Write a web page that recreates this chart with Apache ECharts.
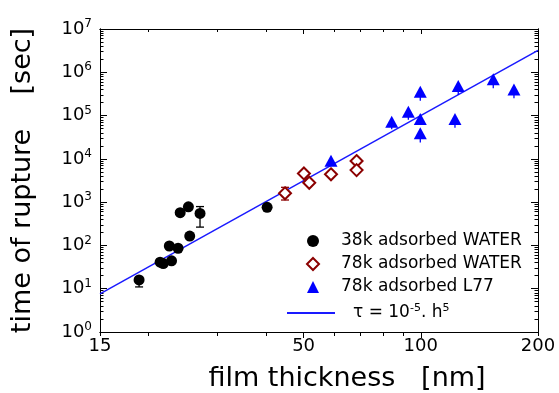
<!DOCTYPE html>
<html><head><meta charset="utf-8">
<script src="https://cdn.jsdelivr.net/npm/echarts@6/dist/echarts.min.js"></script>
<style>html,body{margin:0;padding:0;background:#fff}#c{width:559px;height:393px}</style>
</head><body><div id="c"></div>
<script>
// ---- data ----
const water38kX = [18.9, 21.4, 21.8, 22.6, 22.9, 23.8, 24.1, 25.3, 25.5, 27.1, 40.3];
const water38kY = [16, 41, 38, 97, 44, 86, 570, 780, 165, 550, 760];
const water78kX = [44.8, 50.1, 51.7, 58.8, 68.4, 68.4];
const water78kY = [1600, 4600, 2800, 4400, 8900, 5500];
const l77X = [58.8, 84.2, 92.9, 99.7, 99.7, 99.7, 122.4, 124.8, 153.5, 173.5];
const l77Y = [9000, 72000, 122000, 355000, 83000, 39000, 83000, 480000, 690000, 400000];
const fitX = [15, 200];
const fitY = [7.6, 3.2e6];
// error bars (x, low, high)
const errBlackX = [18.9, 27.1];
const errBlackLow = [11, 265];
const errBlackHigh = [16, 790];
const errRedX = [44.8];
const errRedLow = [1120];
const errRedHigh = [2200];
const errBlueX = [84.2, 92.9, 99.7, 99.7, 122.4, 124.8, 153.5, 173.5];
const errBlueLow = [48000, 80000, 220000, 24000, 52000, 300000, 430000, 250000];
const errBlueHigh = [72000, 122000, 355000, 39000, 83000, 480000, 690000, 400000];
// ticks / labels
const xTickLabels = [15, 50, 100, 200];
const xMajorTicks = [50, 100];
const xMinorTicks = [15, 20, 30, 40, 60, 70, 80, 90, 200];
const yTickLabels = [1, 10, 100, 1e3, 1e4, 1e5, 1e6, 1e7];
const yMinorTicks = [];
for (let e = 0; e < 7; e++) for (let m = 2; m <= 9; m++) yMinorTicks.push(m * Math.pow(10, e));

const FONT = 'DejaVu Sans';
const zip = (a, b) => a.map((v, i) => [v, b[i]]);
const zip3 = (a, b, c) => a.map((v, i) => [v, b[i], c[i]]);

function errRender(color, capW) {
  return function (params, api) {
    const x = api.value(0), lo = api.value(1), hi = api.value(2);
    const p1 = api.coord([x, lo]), p2 = api.coord([x, hi]);
    const ch = [{type: 'line', shape: {x1: p1[0], y1: p1[1], x2: p2[0], y2: p2[1]}, style: {stroke: color, lineWidth: 1.3}}];
    if (capW) {
      ch.push({type: 'line', shape: {x1: p1[0] - capW / 2, y1: p1[1], x2: p1[0] + capW / 2, y2: p1[1]}, style: {stroke: color, lineWidth: 1.3}});
      ch.push({type: 'line', shape: {x1: p2[0] - capW / 2, y1: p2[1], x2: p2[0] + capW / 2, y2: p2[1]}, style: {stroke: color, lineWidth: 1.3}});
    }
    return {type: 'group', children: ch};
  };
}

const axisLineStyle = {show: true, lineStyle: {color: '#000', width: 1}};
function xAx(pos, ticks, len, inside, labels, extra) {
  return Object.assign({
    type: 'log', logBase: 10, min: 15, max: 200, position: pos,
    axisLine: axisLineStyle,
    axisTick: {show: true, inside: inside, length: len, customValues: ticks, lineStyle: {color: '#000', width: 1}},
    axisLabel: labels ? {show: true, customValues: xTickLabels, fontFamily: FONT, fontSize: 18, color: '#000', margin: 5, formatter: v => String(Math.round(v))} : {show: false},
    splitLine: {show: false}, minorTick: {show: false}
  }, extra || {});
}
function yAx(pos, ticks, len, labels, extra) {
  return Object.assign({
    type: 'log', logBase: 10, min: 1, max: 1e7, position: pos,
    axisLine: axisLineStyle,
    axisTick: {show: true, inside: true, length: len, customValues: ticks, lineStyle: {color: '#000', width: 1}},
    axisLabel: labels ? {
      show: true, customValues: yTickLabels, margin: 8, color: '#000',
      formatter: v => '{b|10}{s|' + Math.round(Math.log10(v)) + '}',
      rich: {b: {fontFamily: FONT, fontSize: 18, lineHeight: 22, color: '#000'},
             s: {fontFamily: FONT, fontSize: 12, verticalAlign: 'top', lineHeight: 13, color: '#000'}}
    } : {show: false},
    splitLine: {show: false}, minorTick: {show: false}
  }, extra || {});
}

const chart = echarts.init(document.getElementById('c'));
chart.setOption({
  backgroundColor: '#fff',
  animation: false,
  grid: {left: 100, right: 21, top: 29, bottom: 61, containLabel: false, outerBoundsMode: 'none'},
  xAxis: [
    xAx('bottom', xMajorTicks, 6, false, true, {
      name: 'film thickness   [nm]', nameLocation: 'middle', nameGap: 33,
      nameTextStyle: {fontFamily: FONT, fontSize: 27, color: '#000', padding: [0, 0, 0, 56]}
    }),
    xAx('bottom', xMinorTicks, 4, false, false),
    xAx('top', xMajorTicks, 5, true, false),
    xAx('top', xMinorTicks, 3, true, false)
  ],
  yAxis: [
    yAx('left', yTickLabels, 7, true, {
      name: 'time of rupture    [sec]', nameLocation: 'middle', nameGap: 64,
      nameTextStyle: {fontFamily: FONT, fontSize: 27, color: '#000'}
    }),
    yAx('left', yMinorTicks, 3.5, false),
    yAx('right', yTickLabels, 7, false),
    yAx('right', yMinorTicks, 3.5, false)
  ],
  legend: [
    {
      data: [
        {name: '38k adsorbed WATER', icon: 'circle', itemStyle: {color: '#000'}},
        {name: '78k adsorbed WATER', icon: 'diamond', itemStyle: {color: '#fff', borderColor: '#8b0000', borderWidth: 2}},
        {name: '78k adsorbed L77', icon: 'triangle', itemStyle: {color: '#0000ff'}}
      ],
      orient: 'vertical', left: 301, top: 226, itemWidth: 12, itemHeight: 12, itemGap: 3,
      textStyle: {fontFamily: FONT, fontSize: 17, color: '#000', lineHeight: 20, padding: [0, 0, 0, 17]}
    },
    {
      data: [{name: 'fit', icon: 'rect', itemStyle: {color: '#1a1aff'}}],
      orient: 'vertical', left: 282, top: 298, itemWidth: 48, itemHeight: 2,
      formatter: () => '{a|τ = 10}{s|-5}{a|. h}{s|5}',
      textStyle: {
        padding: [0, 0, 0, 13],
        rich: {a: {fontFamily: FONT, fontSize: 17, lineHeight: 20, color: '#000'},
               s: {fontFamily: FONT, fontSize: 11, verticalAlign: 'top', lineHeight: 12, color: '#000'}}
      }
    }
  ],
  series: [
    {name: 'fit', type: 'line', data: zip(fitX, fitY), showSymbol: false, symbol: 'none',
     lineStyle: {color: '#1a1aff', width: 1.5}, itemStyle: {color: '#1a1aff'}, z: 1},
    {type: 'custom', renderItem: errRender('#000', 8), data: zip3(errBlackX, errBlackLow, errBlackHigh), encode: {x: 0, y: [1, 2]}, z: 2},
    {type: 'custom', renderItem: errRender('#8b0000', 8), data: zip3(errRedX, errRedLow, errRedHigh), encode: {x: 0, y: [1, 2]}, z: 2},
    {type: 'custom', renderItem: errRender('#0000ff', 0), data: zip3(errBlueX, errBlueLow, errBlueHigh), encode: {x: 0, y: [1, 2]}, z: 2},
    {name: '38k adsorbed WATER', type: 'scatter', symbol: 'circle', symbolSize: 11, data: zip(water38kX, water38kY),
     itemStyle: {color: '#000', opacity: 1}, z: 3},
    {name: '78k adsorbed WATER', type: 'scatter', symbol: 'diamond', symbolSize: 12, data: zip(water78kX, water78kY),
     itemStyle: {color: '#fff', borderColor: '#8b0000', borderWidth: 2, opacity: 1}, z: 3},
    {name: '78k adsorbed L77', type: 'scatter', symbol: 'triangle', symbolSize: [13, 12], data: zip(l77X, l77Y),
     itemStyle: {color: '#0000ff', opacity: 1}, z: 3}
  ]
});
</script></body></html>
